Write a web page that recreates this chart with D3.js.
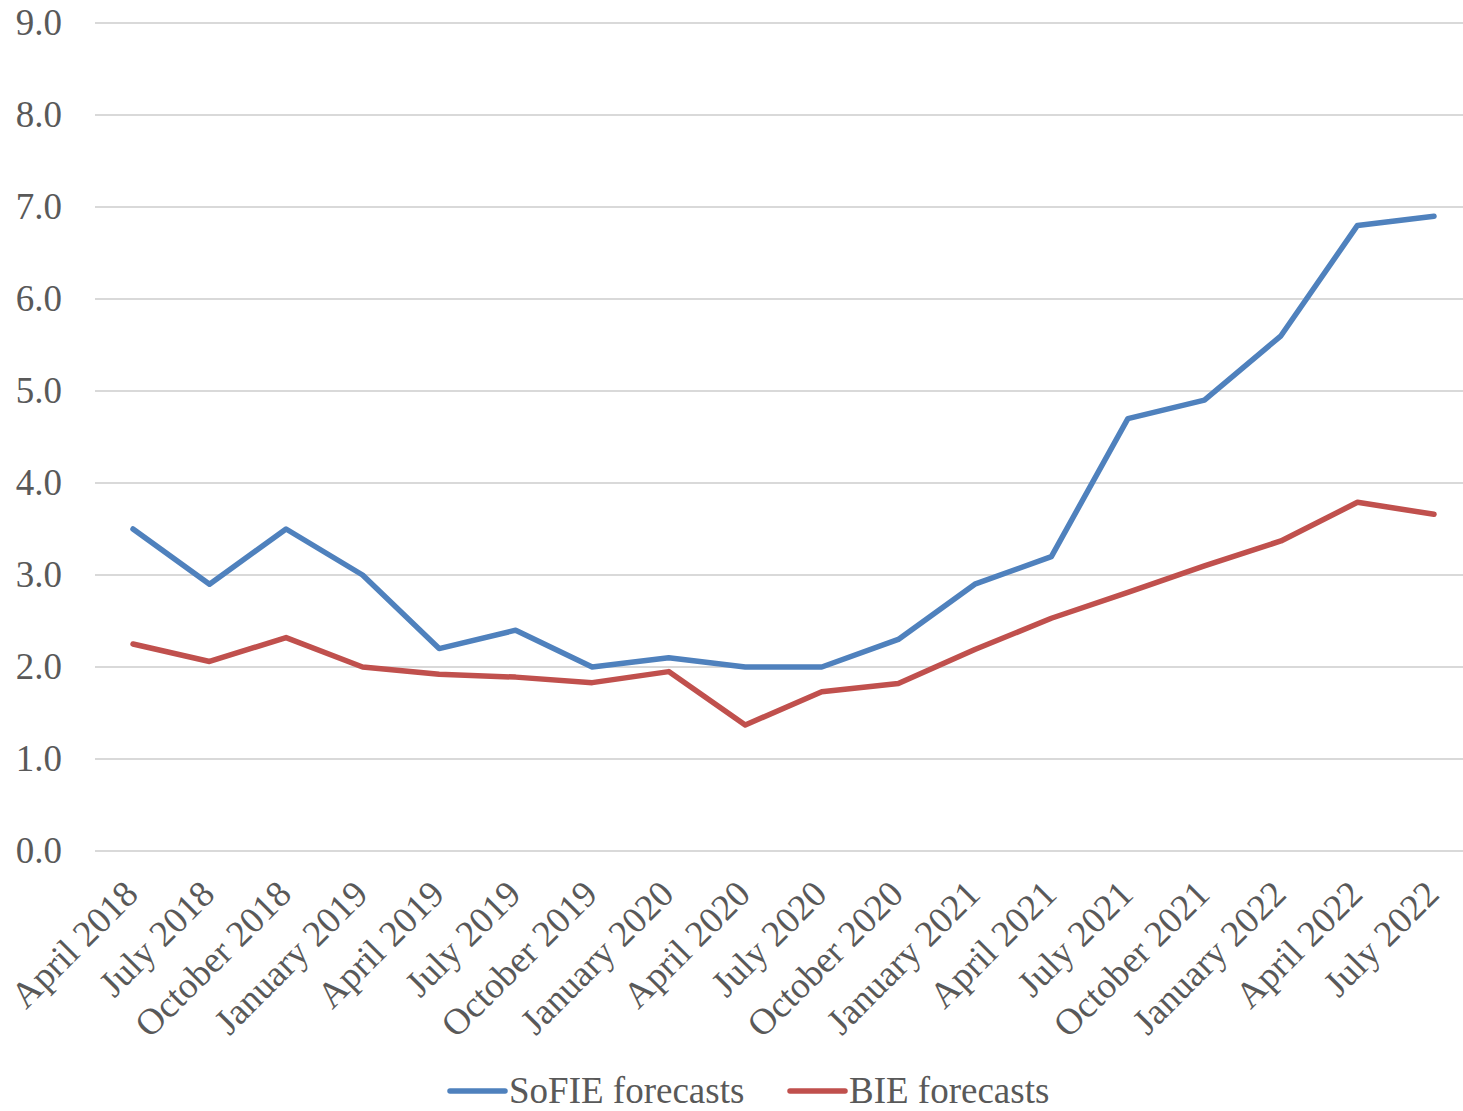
<!DOCTYPE html>
<html>
<head>
<meta charset="utf-8">
<script src="https://cdn.jsdelivr.net/npm/d3@7"></script>
<style>
  body { margin: 0; background: #fff; }
  text { font-family: "Liberation Serif", "Times New Roman", serif; fill: #595959; }
</style>
</head>
<body>
<div id="chart"></div>
<script>
/* DATA */
const quarters = ["April 2018", "July 2018", "October 2018", "January 2019", "April 2019",
  "July 2019", "October 2019", "January 2020", "April 2020", "July 2020", "October 2020",
  "January 2021", "April 2021", "July 2021", "October 2021", "January 2022", "April 2022", "July 2022"];
const sofie = [3.5, 2.9, 3.5, 3.0, 2.2, 2.4, 2.0, 2.1, 2.0, 2.0, 2.3, 2.9, 3.2, 4.7, 4.9, 5.6, 6.8, 6.9];
const bie = [2.25, 2.06, 2.32, 2.0, 1.92, 1.89, 1.83, 1.95, 1.37, 1.73, 1.82, 2.19, 2.53, 2.81, 3.1, 3.37, 3.79, 3.66];
const yTicks = [0, 1, 2, 3, 4, 5, 6, 7, 8, 9];
const seriesNames = ["SoFIE forecasts", "BIE forecasts"];

/* CONSTANTS */
const width = 1463, height = 1111;
const margin = { top: 23, bottom: 260, left: 95, right: 0 };
const colors = ["#4f81bd", "#c0504d"];
const fontSize = 37;

const svg = d3.select("#chart").append("svg")
  .attr("width", width)
  .attr("height", height);

// scales
const xScale = d3.scalePoint()
  .domain(quarters)
  .range([133, 1434]);

const yScale = d3.scaleLinear()
  .domain([0, 9])
  .range([height - margin.bottom, margin.top]);

// gridlines
svg.append("g")
  .selectAll("line")
  .data(yTicks)
  .join("line")
  .attr("x1", margin.left)
  .attr("x2", width)
  .attr("y1", d => yScale(d))
  .attr("y2", d => yScale(d))
  .attr("stroke", "#d9d9d9")
  .attr("stroke-width", 2);

// y axis labels
const yAxis = d3.axisLeft(yScale).tickValues(yTicks).tickFormat(d3.format(".1f")).tickSize(0).tickPadding(0);
const yAxisGroup = svg.append("g")
  .attr("transform", `translate(62,0)`)
  .call(yAxis);
yAxisGroup.select(".domain").remove();
yAxisGroup.selectAll("text")
  .attr("font-size", fontSize)
  .attr("fill", "#595959");

// x axis labels (rotated)
svg.append("g")
  .selectAll("text")
  .data(quarters)
  .join("text")
  .attr("text-anchor", "end")
  .attr("font-size", fontSize)
  .attr("dy", "0.35em")
  .attr("transform", d => `translate(${xScale(d) - 2},${887}) rotate(-45)`)
  .text(d => d);

// lines
const line = d3.line()
  .x((d, i) => xScale(quarters[i]))
  .y(d => yScale(d));

svg.selectAll("path.series")
  .data([sofie, bie])
  .join("path")
  .attr("class", "series")
  .attr("d", d => line(d))
  .attr("fill", "none")
  .attr("stroke", (d, i) => colors[i])
  .attr("stroke-width", 5.5)
  .attr("stroke-linejoin", "round")
  .attr("stroke-linecap", "round");

// legend
const legendX = [450, 790];
const legend = svg.append("g")
  .selectAll("g")
  .data(seriesNames)
  .join("g")
  .attr("transform", (d, i) => `translate(${legendX[i]},1091)`);

legend.append("line")
  .attr("x1", 0).attr("x2", 55)
  .attr("stroke", (d, i) => colors[i])
  .attr("stroke-width", 5.5)
  .attr("stroke-linecap", "round");

legend.append("text")
  .attr("x", 59)
  .attr("y", 12)
  .attr("font-size", fontSize)
  .text(d => d);
</script>
</body>
</html>
